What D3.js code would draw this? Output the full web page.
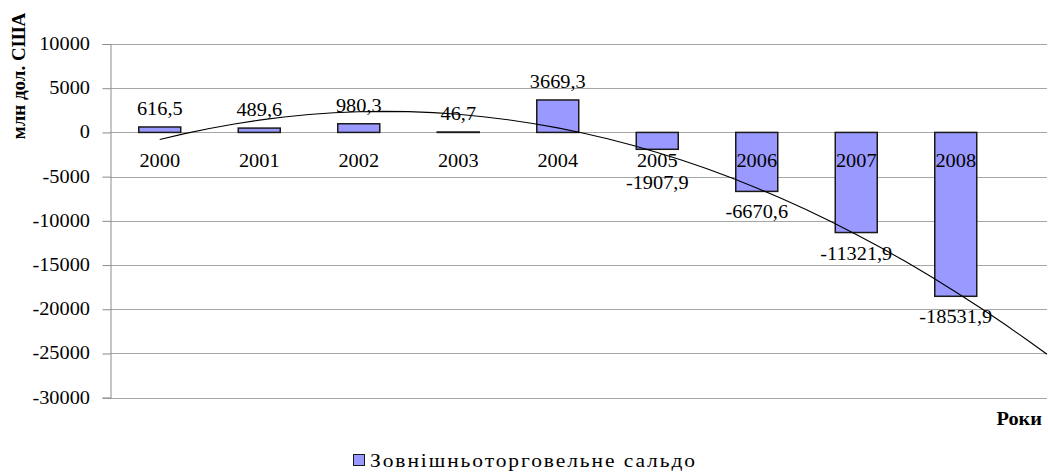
<!DOCTYPE html>
<html>
<head>
<meta charset="utf-8">
<script src="https://cdn.jsdelivr.net/npm/d3@7"></script>
<style>
  body { margin: 0; background: #fff; }
</style>
</head>
<body>
<div id="chart"></div>
<script>
// data
var years = ["2000", "2001", "2002", "2003", "2004", "2005", "2006", "2007", "2008"];
var saldo = [616.5, 489.6, 980.3, 46.7, 3669.3, -1907.9, -6670.6, -11321.9, -18531.9];
var labels = ["616,5", "489,6", "980,3", "46,7", "3669,3", "-1907,9", "-6670,6", "-11321,9", "-18531,9"];
var yTicks = [10000, 5000, 0, -5000, -10000, -15000, -20000, -25000, -30000];

var width = 1048, height = 473;
var plotLeft = 110, plotRight = 1047, plotTop = 44, plotBottom = 397.7;
var sx = 1.13; // the original picture is a bit wider than tall
var serif = "'Liberation Serif', 'Times New Roman', Tinos, 'DejaVu Serif', serif";

var svg = d3.select("#chart").append("svg")
  .attr("width", width)
  .attr("height", height);

var x = d3.scaleBand()
  .domain(years)
  .range([plotLeft, plotLeft + 9 * 99.5])
  .paddingInner(0.578)
  .paddingOuter(0.289);

var y = d3.scaleLinear()
  .domain([-30000, 10000])
  .range([plotBottom, plotTop]);

function stretchText(g, tx, ty, str, anchor, size, weight) {
  return g.append("text")
    .attr("transform", "translate(" + tx + "," + ty + ") scale(" + sx + ",1)")
    .attr("text-anchor", anchor)
    .style("font-family", serif)
    .style("font-size", size + "px")
    .style("font-weight", weight || "normal")
    .style("fill", "#000")
    .text(str);
}

// gridlines
svg.append("g")
  .selectAll("line")
  .data(yTicks)
  .enter()
  .append("line")
  .attr("x1", plotLeft)
  .attr("x2", plotRight)
  .attr("y1", function(d) { return Math.round(y(d)) + 0.5; })
  .attr("y2", function(d) { return Math.round(y(d)) + 0.5; })
  .attr("stroke", "#a6a6a6")
  .attr("stroke-width", 1);

// y axis
var yAxis = svg.append("g")
  .attr("transform", "translate(" + (plotLeft + 0.5) + ",0)")
  .call(d3.axisLeft(y).tickValues(yTicks).tickSize(8).tickFormat(""));
yAxis.select(".domain").attr("stroke", "#8c8c8c");
yAxis.selectAll(".tick line").attr("stroke", "#8c8c8c");

var tickLabels = svg.append("g");
yTicks.forEach(function(t) {
  stretchText(tickLabels, 90, y(t) + 6, String(t), "end", 18);
});

// bars
svg.append("g")
  .selectAll("rect")
  .data(saldo)
  .enter()
  .append("rect")
  .attr("x", function(d, i) { return x(years[i]); })
  .attr("y", function(d) { return y(Math.max(0, d)); })
  .attr("width", x.bandwidth())
  .attr("height", function(d) { return Math.abs(y(d) - y(0)); })
  .attr("fill", "#9999ff")
  .attr("stroke", "#1a1a1a")
  .attr("stroke-width", 1.5);

// trendline: 2nd order polynomial least squares on the series
var n = saldo.length;
var st = 0, st2 = 0, st3 = 0, st4 = 0, sy = 0, sty = 0, st2y = 0;
saldo.forEach(function(v, i) {
  var t = i + 1;
  st += t; st2 += t * t; st3 += t * t * t; st4 += t * t * t * t;
  sy += v; sty += t * v; st2y += t * t * v;
});
function solve3(m, r) {
  var det = function(a) {
    return a[0][0] * (a[1][1] * a[2][2] - a[1][2] * a[2][1])
         - a[0][1] * (a[1][0] * a[2][2] - a[1][2] * a[2][0])
         + a[0][2] * (a[1][0] * a[2][1] - a[1][1] * a[2][0]);
  };
  var D = det(m);
  return [0, 1, 2].map(function(k) {
    var mk = m.map(function(row, i) { return row.map(function(c, j) { return j === k ? r[i] : c; }); });
    return det(mk) / D;
  });
}
var coef = solve3([[n, st, st2], [st, st2, st3], [st2, st3, st4]], [sy, sty, st2y]);
function trend(t) { return coef[0] + coef[1] * t + coef[2] * t * t; }

var tx = d3.scaleLinear()
  .domain([1, 2])
  .range([x(years[0]) + x.bandwidth() / 2, x(years[1]) + x.bandwidth() / 2]);
var tEnd = tx.invert(plotRight);
var tPts = d3.range(1, tEnd, 0.25).concat([tEnd]);

svg.append("path")
  .datum(tPts)
  .attr("d", d3.line().x(function(t) { return tx(t); }).y(function(t) { return y(trend(t)); }))
  .attr("fill", "none")
  .attr("stroke", "#000")
  .attr("stroke-width", 1.1);

// category labels
var catBase = y(0) + 35;
var cats = svg.append("g");
years.forEach(function(yr) {
  stretchText(cats, x(yr) + x.bandwidth() / 2, catBase, yr, "middle", 18);
});

// value labels
var vals = svg.append("g");
saldo.forEach(function(v, i) {
  var cx = x(years[i]) + x.bandwidth() / 2;
  var by;
  if (v >= 0) {
    by = y(v) - 12;
  } else {
    by = Math.max(y(v) + 27, catBase + 22);
  }
  stretchText(vals, cx, by, labels[i], "middle", 18);
});

// axis titles
svg.append("text")
  .attr("transform", "translate(25,76) rotate(-90)")
  .attr("text-anchor", "middle")
  .style("font-family", serif)
  .style("font-size", "19px")
  .style("font-weight", "bold")
  .text("млн дол. США");

stretchText(svg, 1042, 425, "Роки", "end", 18, "bold");

// legend
var legend = svg.append("g");
legend.append("rect")
  .attr("x", 353.5)
  .attr("y", 454.5)
  .attr("width", 11)
  .attr("height", 11)
  .attr("fill", "#9999ff")
  .attr("stroke", "#1a1a1a")
  .attr("stroke-width", 1);
stretchText(legend, 370, 467, "Зовнішньоторговельне сальдо", "start", 19)
  .attr("textLength", 325 / sx)
  .attr("lengthAdjust", "spacing");
</script>
</body>
</html>
